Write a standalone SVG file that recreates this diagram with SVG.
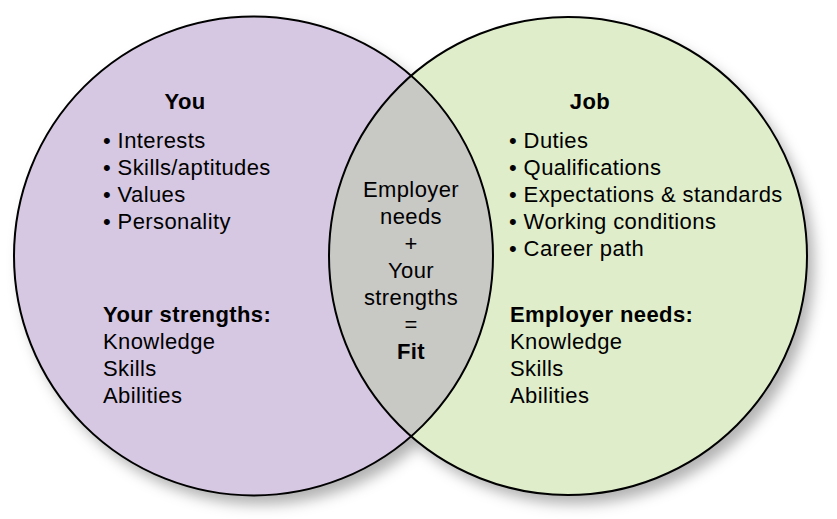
<svg xmlns="http://www.w3.org/2000/svg" width="837" height="519" viewBox="0 0 837 519">
<style>
  text { font-family: "Liberation Sans", Arial, sans-serif; font-size: 22px; letter-spacing: 0.4px; fill: #000; }
  .b { font-weight: bold; }
  .c { text-anchor: middle; }
  .ring { fill: none; stroke: #000; stroke-width: 2; }
</style>
<defs>
  <filter id="sh" x="-10%" y="-10%" width="130%" height="130%">
    <feDropShadow dx="7" dy="9" stdDeviation="7" flood-color="#000" flood-opacity="0.3"/>
  </filter>
  <clipPath id="clipL"><circle cx="253.5" cy="256" r="239.5"/></clipPath>
</defs>
<g id="shadows" filter="url(#sh)">
  <circle cx="253.5" cy="256" r="239.5" fill="#d6c8e2"/>
  <circle cx="568" cy="256" r="239" fill="#dfedca"/>
</g>
<g id="you">
  <circle cx="253.5" cy="256" r="239.5" fill="#d6c8e2"/>
</g>
<g id="job">
  <circle cx="568" cy="256" r="239" fill="#dfedca"/>
</g>
<g id="fit">
  <circle cx="568" cy="256" r="239" fill="#c8c8c5" clip-path="url(#clipL)"/>
</g>
<g id="outlines">
  <circle class="ring" cx="253.5" cy="256" r="239.5"/>
  <circle class="ring" cx="568" cy="256" r="239"/>
</g>
<g id="you-text">
  <text class="b c" x="185" y="109">You</text>
  <text x="103" y="148">• Interests</text>
  <text x="103" y="175">• Skills/aptitudes</text>
  <text x="103" y="202">• Values</text>
  <text x="103" y="229">• Personality</text>
  <text class="b" x="103" y="322">Your strengths:</text>
  <text x="103" y="349">Knowledge</text>
  <text x="103" y="376">Skills</text>
  <text x="103" y="403">Abilities</text>
</g>
<g id="job-text">
  <text class="b c" x="590" y="109">Job</text>
  <text x="509" y="148">• Duties</text>
  <text x="509" y="175">• Qualifications</text>
  <text x="509" y="202">• Expectations &amp; standards</text>
  <text x="509" y="229">• Working conditions</text>
  <text x="509" y="256">• Career path</text>
  <text class="b" x="510" y="322">Employer needs:</text>
  <text x="510" y="349">Knowledge</text>
  <text x="510" y="376">Skills</text>
  <text x="510" y="403">Abilities</text>
</g>
<g id="fit-text">
  <text class="c" x="411" y="197">Employer</text>
  <text class="c" x="411" y="224">needs</text>
  <text class="c" x="411" y="251">+</text>
  <text class="c" x="411" y="278">Your</text>
  <text class="c" x="411" y="305">strengths</text>
  <text class="c" x="411" y="332">=</text>
  <text class="b c" x="411" y="359">Fit</text>
</g>
</svg>
